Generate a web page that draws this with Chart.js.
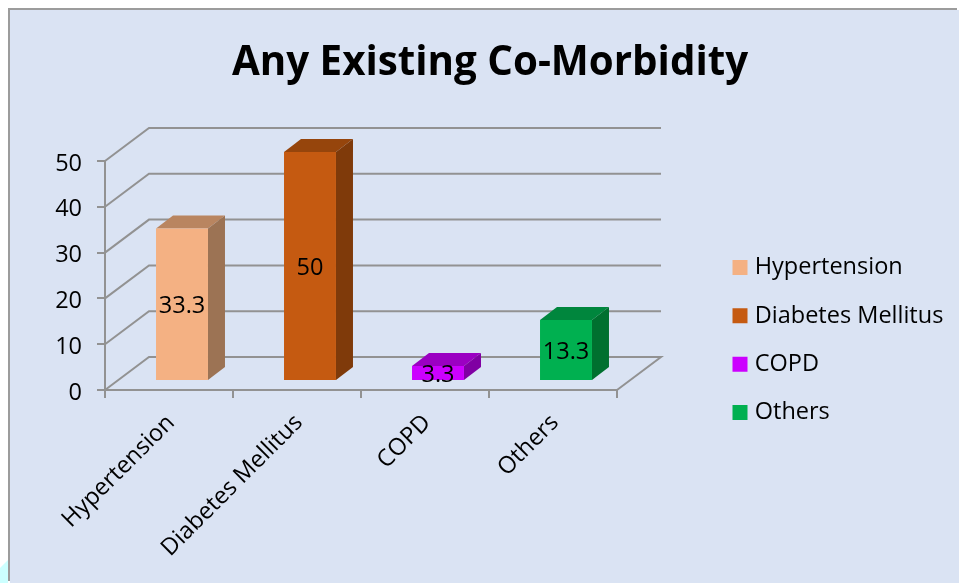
<!DOCTYPE html>
<html>
<head>
<meta charset="utf-8">
<title>Any Existing Co-Morbidity</title>
<style>
  html, body { margin: 0; padding: 0; background: #fff; overflow: hidden; }
  #panel { position: absolute; left: 10px; top: 10px; width: 949px; height: 573px;
           background: #dae3f3; box-shadow: -2px -2px 0 #9c9c9c; }
  #corner { position: absolute; left: 0; top: 560px; width: 8px; height: 23px;
            background: #ccffff; clip-path: polygon(0 35%, 100% 0, 100% 100%, 0 100%); }
</style>
<script src="https://cdn.jsdelivr.net/npm/chart.js@4/dist/chart.umd.min.js"></script>
</head>
<body>
<div id="corner"></div>
<div id="panel"><canvas id="myChart"></canvas></div>
<script>
const categories = ["Hypertension", "Diabetes Mellitus", "COPD", "Others"];
const values = [33.3, 50, 3.3, 13.3];
const yTicks = [0, 10, 20, 30, 40, 50];
const frontColors = ["#f4b183", "#c55a11", "#cc00ff", "#00b050"];
const topColors = ["#b98560", "#96450c", "#9b00c2", "#00863d"];
const sideColors = ["#9c7354", "#7f3a0a", "#8000a3", "#00702f"];

const fontName = "'Open Sans', Lato, sans-serif";
const fontSize = 23.5;
const lineGray = "#929292";

// offset of the bars from the axis plane, and of the back wall and bar depth
const barShift = { x: 13, y: -9 };
const wall = { x: 44, y: -33 };
const depth = { x: 17, y: -13 };

function polygon(ctx, points, color) {
    ctx.fillStyle = color;
    ctx.beginPath();
    points.forEach((p, i) => (i ? ctx.lineTo(p[0], p[1]) : ctx.moveTo(p[0], p[1])));
    ctx.closePath();
    ctx.fill();
}

// back wall, floor and the slanted grid lines
const wallPlugin = {
    id: "wall",
    beforeDatasetsDraw(chart) {
        const { ctx, chartArea, scales } = chart;
        ctx.save();
        ctx.strokeStyle = lineGray;
        ctx.lineWidth = 2;
        yTicks.forEach((t) => {
            const y = scales.y.getPixelForValue(t);
            ctx.beginPath();
            ctx.moveTo(chartArea.left, y);
            ctx.lineTo(chartArea.left + wall.x, y + wall.y);
            ctx.lineTo(chartArea.right + wall.x, y + wall.y);
            if (t === 0) ctx.lineTo(chartArea.right, y);
            ctx.stroke();
        });
        ctx.restore();
    },
};

// moves the bars off the axis plane and adds their top and side faces
const boxPlugin = {
    id: "box",
    beforeDatasetDraw(chart) {
        const { ctx } = chart;
        ctx.save();
        ctx.translate(barShift.x, barShift.y);
        chart.getDatasetMeta(0).data.forEach((bar, i) => {
            const l = bar.x - bar.width / 2;
            const r = bar.x + bar.width / 2;
            polygon(ctx, [[l, bar.y], [l + depth.x, bar.y + depth.y], [r + depth.x, bar.y + depth.y], [r, bar.y]], topColors[i]);
            polygon(ctx, [[r, bar.y], [r + depth.x, bar.y + depth.y], [r + depth.x, bar.base + depth.y], [r, bar.base]], sideColors[i]);
        });
    },
    afterDatasetDraw(chart) {
        chart.ctx.restore();
    },
    afterDatasetsDraw(chart) {
        const { ctx } = chart;
        ctx.save();
        ctx.fillStyle = "#000";
        ctx.font = fontSize + "px " + fontName;
        ctx.textAlign = "center";
        ctx.textBaseline = "middle";
        chart.getDatasetMeta(0).data.forEach((bar, i) => {
            const cy = (bar.y + bar.base) / 2;
            ctx.fillText(String(values[i]), bar.x + barShift.x, cy + barShift.y + 2);
        });
        ctx.restore();
    },
};

// legend sits right of the plot, title is centred over the whole panel
const legendPlacePlugin = {
    id: "legendPlace",
    afterLayout(chart) {
        const legend = chart.legend;
        legend.left = 702.2;
        legend.right = 949;
        legend.top = 221;
        legend.bottom = 560;
        const title = chart.titleBlock;
        title.left = 0;
        title.right = 960;
    },
};

new Chart(document.getElementById("myChart"), {
    type: "bar",
    data: {
        labels: categories,
        datasets: [{
            data: values,
            backgroundColor: frontColors,
            barPercentage: 0.406,
            categoryPercentage: 1,
            clip: false,
        }],
    },
    options: {
        responsive: true,
        maintainAspectRatio: false,
        animation: false,
        events: [],
        layout: { autoPadding: false, padding: { left: 0, right: 342, top: 0, bottom: 0 } },
        plugins: {
            tooltip: { enabled: false },
            title: {
                display: true,
                text: "Any Existing Co-Morbidity",
                color: "#000",
                font: { family: fontName, size: 40.3, weight: "bold" },
                padding: { top: 29.5, bottom: 73.1 },
            },
            legend: {
                position: "chartArea",
                align: "start",
                labels: {
                    color: "#000",
                    font: { family: fontName, size: fontSize },
                    boxWidth: 6,
                    boxHeight: 6,
                    padding: 24.8,
                    generateLabels: () => categories.map((name, i) => ({
                        text: name,
                        fillStyle: frontColors[i],
                        strokeStyle: frontColors[i],
                        lineWidth: 9,
                        index: i,
                    })),
                },
            },
        },
        scales: {
            x: {
                afterFit(scale) { scale.height = 193; },
                grid: { drawOnChartArea: false, color: lineGray, lineWidth: 2, tickLength: 8 },
                border: { color: lineGray, width: 2 },
                ticks: { color: "#000", font: { family: fontName, size: fontSize }, minRotation: 45, maxRotation: 45, padding: 11, labelOffset: 2, autoSkip: false },
            },
            y: {
                min: 0,
                max: 50,
                afterFit(scale) { scale.width = 95; },
                grid: { drawOnChartArea: false, color: lineGray, lineWidth: 2, tickLength: 8 },
                border: { color: lineGray, width: 2 },
                ticks: { color: "#000", font: { family: fontName, size: fontSize }, stepSize: 10, padding: 15, labelOffset: 3 },
            },
        },
    },
    plugins: [wallPlugin, boxPlugin, legendPlacePlugin],
});
</script>
</body>
</html>
